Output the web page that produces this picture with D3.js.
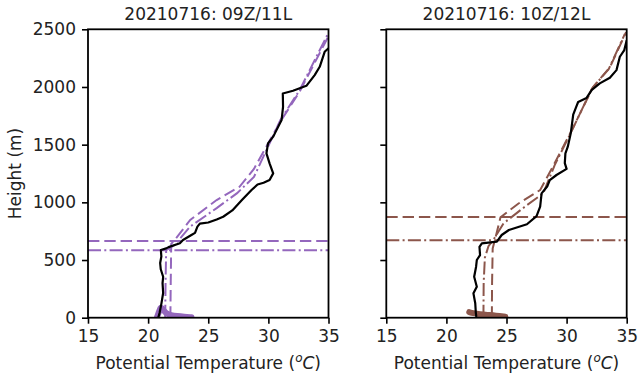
<!DOCTYPE html>
<html>
<head>
<meta charset="utf-8">
<script src="https://cdn.jsdelivr.net/npm/d3@7"></script>
<style>
  body { margin: 0; background: #fff; }
  svg { display: block; font-family: "DejaVu Sans", sans-serif; }
</style>
</head>
<body>
<div id="chart"></div>
<script>
// axis ticks and titles
var xTicks = [15, 20, 25, 30, 35];
var yTicks = [0, 500, 1000, 1500, 2000, 2500];
var titles = ["20210716: 09Z/11L", "20210716: 10Z/12L"];
var colors = ["#9467bd", "#8c564b"];

// observed sounding [theta (C), height (m)]
var obs09 = [[20.84,0],[20.95,40],[21.1,120],[21.25,214],[21.2,300],[21.25,355],[21.05,420],[21.0,474],[21.1,530],[21.06,587],[21.5,601],[21.7,612],[22.64,645],[22.9,673],[23.6,717],[23.9,735],[24.1,789],[24.3,815],[25.0,825],[25.7,852],[26.24,875],[27.0,930],[27.8,1020],[28.6,1107],[29.1,1155],[29.6,1170],[30.1,1193],[30.4,1251],[30.1,1338],[29.84,1425],[29.97,1511],[30.4,1569],[30.55,1600],[31.1,1713],[31.22,1828],[31.2,1944],[32.05,1967],[33.16,2010],[33.85,2103],[34.27,2175],[34.68,2305],[35.0,2335]];
var obs10 = [[22.5,0],[22.45,40],[22.4,125],[22.25,211],[22.53,269],[22.31,355],[22.47,442],[22.53,500],[22.8,543],[22.75,615],[22.95,645],[24.2,659],[24.6,717],[25.2,760],[26.7,810],[27.5,880],[27.8,962],[27.92,1078],[28.4,1140],[28.6,1193],[29.16,1237],[30.0,1290],[29.85,1340],[29.9,1425],[30.1,1482],[30.35,1600],[30.55,1760],[30.8,1828],[30.96,1870],[31.66,1905],[32.1,1975],[32.76,2031],[33.6,2080],[34.15,2146],[34.43,2262],[34.8,2320],[35.0,2406]];

// model profiles
var dashed09 = [[21.85,0],[21.88,300],[21.92,640],[22.2,673],[23.5,847],[25.7,1020],[27.6,1135],[28.8,1290],[31.0,1700],[32.6,1960],[35.0,2440]];
var dashdot09 = [[21.42,0],[21.45,300],[21.5,585],[22.2,630],[23.5,790],[25.7,950],[27.4,1080],[28.8,1220],[31.0,1713],[32.6,1973],[34.95,2460]];
var dashed10 = [[23.78,0],[23.8,300],[23.85,600],[24.1,700],[24.5,870],[26.0,990],[27.8,1107],[29.0,1338],[30.55,1650],[32.2,2000],[33.6,2170],[34.95,2475]];
var dashdot10 = [[23.08,0],[23.1,300],[23.2,520],[23.5,620],[23.9,673],[24.75,818],[26.5,960],[28.05,1078],[29.0,1320],[30.5,1635],[32.1,1985],[33.5,2155],[34.85,2460]];

// boundary layer heights (m)
var pblDashed = [665, 873];
var pblDashdot = [584, 671];

// near-surface observations
var sfc09 = [[20.75,8],[20.9,50],[21.05,100],[21.25,70],[21.5,35],[21.9,22],[22.4,14],[23.0,8],[23.6,4]];
var sfc10 = [[21.9,48],[22.2,40],[22.8,30],[23.4,24],[24.1,18],[24.9,8]];

var panels = [
  {title: titles[0], color: colors[0], obs: obs09, dashed: dashed09, dashdot: dashdot09, pd: pblDashed[0], pdd: pblDashdot[0], sfc: sfc09, x0: 88, x1: 328.5, ylabels: true},
  {title: titles[1], color: colors[1], obs: obs10, dashed: dashed10, dashdot: dashdot10, pd: pblDashed[1], pdd: pblDashdot[1], sfc: sfc10, x0: 386.3, x1: 626.7, ylabels: false}
];

var width = 640, height = 375;
var plotTop = 29.3, plotBottom = 317.7;

var svg = d3.select("#chart").append("svg")
    .attr("width", width)
    .attr("height", height);

svg.append("rect").attr("width", width).attr("height", height).attr("fill", "#fff");

var DASH = "11.4,4.9";
var DASHDOT = "13,3.3,2,3.3";

panels.forEach(function (p, i) {
    var x = d3.scaleLinear().domain([15, 35]).range([p.x0, p.x1]);
    var y = d3.scaleLinear().domain([0, 2500]).range([plotBottom, plotTop]);
    var line = d3.line().x(function (d) { return x(d[0]); }).y(function (d) { return y(d[1]); });

    svg.append("clipPath").attr("id", "clip" + i)
        .append("rect")
        .attr("x", p.x0).attr("y", plotTop)
        .attr("width", p.x1 - p.x0).attr("height", plotBottom - plotTop);

    var g = svg.append("g").attr("clip-path", "url(#clip" + i + ")");

    // horizontal PBL lines
    g.append("line")
        .attr("x1", x(15)).attr("x2", x(35))
        .attr("y1", y(p.pd)).attr("y2", y(p.pd))
        .attr("stroke", p.color).attr("stroke-width", 2)
        .attr("stroke-dasharray", DASH);
    g.append("line")
        .attr("x1", x(15)).attr("x2", x(35))
        .attr("y1", y(p.pdd)).attr("y2", y(p.pdd))
        .attr("stroke", p.color).attr("stroke-width", 2)
        .attr("stroke-dasharray", DASHDOT);

    // model profiles
    g.append("path").datum(p.dashed)
        .attr("d", line).attr("fill", "none")
        .attr("stroke", p.color).attr("stroke-width", 2)
        .attr("stroke-dasharray", DASH);
    g.append("path").datum(p.dashdot)
        .attr("d", line).attr("fill", "none")
        .attr("stroke", p.color).attr("stroke-width", 2)
        .attr("stroke-dasharray", DASHDOT);

    // near-surface blob
    var smooth = d3.line().curve(d3.curveBasis)
        .x(function (d) { return x(d[0]); }).y(function (d) { return y(d[1]); });
    g.append("path").datum(p.sfc)
        .attr("d", smooth).attr("fill", "none")
        .attr("stroke", p.color).attr("stroke-width", 6)
        .attr("stroke-linecap", "round").attr("stroke-linejoin", "round");

    // observed sounding
    g.append("path").datum(p.obs)
        .attr("d", line).attr("fill", "none")
        .attr("stroke", "#000").attr("stroke-width", 2.2)
        .attr("stroke-linejoin", "round");

    // axes
    var xAxis = svg.append("g")
        .attr("transform", "translate(0," + plotBottom + ")")
        .call(d3.axisBottom(x).tickValues(xTicks).tickSize(6).tickPadding(6).tickSizeOuter(0));
    var yAxis = svg.append("g")
        .attr("transform", "translate(" + p.x0 + ",0)")
        .call(d3.axisLeft(y).tickValues(yTicks).tickSize(6).tickPadding(6).tickSizeOuter(0)
            .tickFormat(p.ylabels ? d3.format("d") : function () { return ""; }));
    [xAxis, yAxis].forEach(function (a) {
        a.select(".domain").remove();
        a.selectAll(".tick line").attr("stroke", "#000").attr("stroke-width", 1.6);
        a.selectAll(".tick text").attr("fill", "#222").style("font-size", "17px")
            .style("font-family", "DejaVu Sans");
    });

    // frame
    svg.append("rect")
        .attr("x", p.x0).attr("y", plotTop)
        .attr("width", p.x1 - p.x0).attr("height", plotBottom - plotTop)
        .attr("fill", "none").attr("stroke", "#000").attr("stroke-width", 1.8);

    // title
    svg.append("text")
        .attr("x", (p.x0 + p.x1) / 2).attr("y", 19.5)
        .attr("text-anchor", "middle")
        .style("font-size", "17px").attr("fill", "#222")
        .text(p.title);

    // x label
    var xl = svg.append("text")
        .attr("x", (p.x0 + p.x1) / 2).attr("y", 369)
        .attr("text-anchor", "middle")
        .style("font-size", "17px").attr("fill", "#222");
    xl.append("tspan").text("Potential Temperature (");
    xl.append("tspan").attr("font-style", "italic").attr("dy", -7).style("font-size", "12px").text("o");
    xl.append("tspan").attr("font-style", "italic").attr("dy", 7).text("C");
    xl.append("tspan").text(")");
});

// y label
svg.append("text")
    .attr("transform", "translate(21," + ((plotTop + plotBottom) / 2) + ") rotate(-90)")
    .attr("text-anchor", "middle")
    .style("font-size", "17px").attr("fill", "#222")
    .text("Height (m)");
</script>
</body>
</html>
